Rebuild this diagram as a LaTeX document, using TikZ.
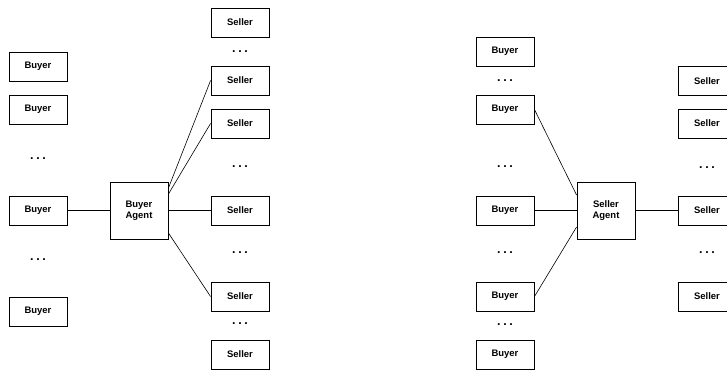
\documentclass[tikz,border=0pt]{standalone}
\usepackage{fontspec}
\setmainfont{Liberation Sans}
\newcommand{\mydots}{.\hspace{2.6bp}.\hspace{2.6bp}.}
\begin{document}
\begin{tikzpicture}[x=1bp,y=-1bp,
  box/.style={draw=black,line width=0.9bp,fill=white,minimum width=58bp,minimum height=29bp,inner sep=0pt,font=\fontsize{9.5}{11.5}\selectfont\bfseries},
  agentbox/.style={box,minimum height=57bp,align=center},
  dotsnode/.style={inner sep=0pt,font=\fontsize{12.5}{13}\selectfont\bfseries},
  conn/.style={draw=black,line width=0.6bp}]
\useasboundingbox (0,0) rectangle (727,370);
% left panel
\node[box] (b1) at (38,66.5) {Buyer};
\node[box] (b2) at (38,109.5) {Buyer};
\node[dotsnode] (bd1) at (38,158.5) {\mydots};
\node[box] (b3) at (38,210.5) {Buyer};
\node[dotsnode] (bd2) at (38,259.5) {\mydots};
\node[box] (b4) at (38,311.5) {Buyer};
\node[agentbox] (ba) at (139,210.5) {Buyer\\Agent};
\node[box] (s1) at (240,22.5) {Seller};
\node[dotsnode] (sd1) at (240,51.5) {\mydots};
\node[box] (s2) at (240,80.5) {Seller};
\node[box] (s3) at (240,123.5) {Seller};
\node[dotsnode] (sd2) at (240,166.5) {\mydots};
\node[box] (s4) at (240,210.5) {Seller};
\node[dotsnode] (sd3) at (240,252.5) {\mydots};
\node[box] (s5) at (240,296.5) {Seller};
\node[dotsnode] (sd4) at (240,323.5) {\mydots};
\node[box] (s6) at (240,354.5) {Seller};
\draw[conn] (b3.east) -- (ba.west);
\draw[conn] (ba.east) -- (s4.west);
\draw[conn] ([yshift=22.5bp]ba.east) -- (s2.west);
\draw[conn] ([yshift=16.5bp]ba.east) -- (s3.west);
\draw[conn] ([yshift=-22.5bp]ba.east) -- (s5.west);
% right panel
\node[box] (rb1) at (505,51.5) {Buyer};
\node[dotsnode] (rbd1) at (505,80.5) {\mydots};
\node[box] (rb2) at (505,109.5) {Buyer};
\node[dotsnode] (rbd2) at (505,166.5) {\mydots};
\node[box] (rb3) at (505,210.5) {Buyer};
\node[dotsnode] (rbd3) at (505,252.5) {\mydots};
\node[box] (rb4) at (505,296.5) {Buyer};
\node[dotsnode] (rbd4) at (505,324.5) {\mydots};
\node[box] (rb5) at (505,354.5) {Buyer};
\node[agentbox] (sa) at (606,210.5) {Seller\\Agent};
\node[box] (rs1) at (707,81) {Seller};
\node[box] (rs2) at (707,123.5) {Seller};
\node[dotsnode] (rsd1) at (707,167.5) {\mydots};
\node[box] (rs3) at (707,210.5) {Seller};
\node[dotsnode] (rsd2) at (707,252.5) {\mydots};
\node[box] (rs4) at (707,296.5) {Seller};
\draw[conn] (rb3.east) -- (sa.west);
\draw[conn] (sa.east) -- (rs3.west);
\draw[conn] (rb2.east) -- ([yshift=15.5bp]sa.west);
\draw[conn] (rb4.east) -- ([yshift=-16.5bp]sa.west);
\end{tikzpicture}
\end{document}
